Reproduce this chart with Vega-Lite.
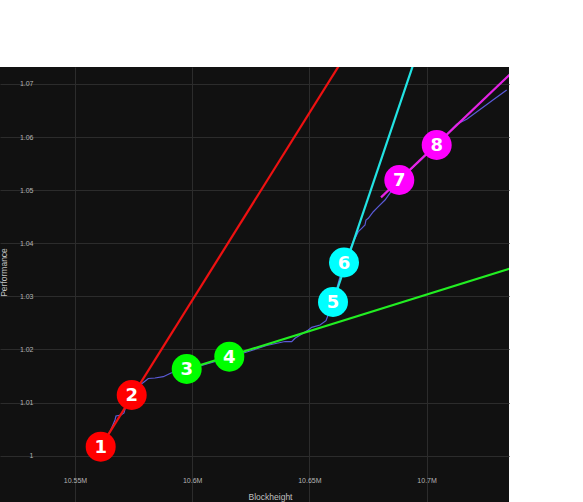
{
  "$schema": "https://vega.github.io/schema/vega-lite/v6.json",
  "autosize": {"type": "none"},
  "width": 509,
  "height": 435,
  "padding": {"left": 0, "top": 67, "right": 74, "bottom": 0},
  "background": "white",
  "config": {
    "view": {"fill": "#111111", "stroke": null},
    "font": "Liberation Sans"
  },
  "datasets": {
    "lines": [
      {"series": "actual", "i": 0, "x": 10560964, "y": 1.001695},
      {"series": "actual", "i": 1, "x": 10564932, "y": 1.00452},
      {"series": "actual", "i": 2, "x": 10567065, "y": 1.006723},
      {"series": "actual", "i": 3, "x": 10567491, "y": 1.007476},
      {"series": "actual", "i": 4, "x": 10569625, "y": 1.007665},
      {"series": "actual", "i": 5, "x": 10570904, "y": 1.008041},
      {"series": "actual", "i": 6, "x": 10571331, "y": 1.008795},
      {"series": "actual", "i": 7, "x": 10574189, "y": 1.011431},
      {"series": "actual", "i": 8, "x": 10577730, "y": 1.013314},
      {"series": "actual", "i": 9, "x": 10579565, "y": 1.013936},
      {"series": "actual", "i": 10, "x": 10581271, "y": 1.014538},
      {"series": "actual", "i": 11, "x": 10584130, "y": 1.014632},
      {"series": "actual", "i": 12, "x": 10587671, "y": 1.014877},
      {"series": "actual", "i": 13, "x": 10590956, "y": 1.015574},
      {"series": "actual", "i": 14, "x": 10597653, "y": 1.016327},
      {"series": "actual", "i": 15, "x": 10603328, "y": 1.016892},
      {"series": "actual", "i": 16, "x": 10615699, "y": 1.018493},
      {"series": "actual", "i": 17, "x": 10624659, "y": 1.019717},
      {"series": "actual", "i": 18, "x": 10631783, "y": 1.020753},
      {"series": "actual", "i": 19, "x": 10639590, "y": 1.021506},
      {"series": "actual", "i": 20, "x": 10642449, "y": 1.021468},
      {"series": "actual", "i": 21, "x": 10643856, "y": 1.022109},
      {"series": "actual", "i": 22, "x": 10649530, "y": 1.023672},
      {"series": "actual", "i": 23, "x": 10650981, "y": 1.02418},
      {"series": "actual", "i": 24, "x": 10654522, "y": 1.024613},
      {"series": "actual", "i": 25, "x": 10657082, "y": 1.025423},
      {"series": "actual", "i": 26, "x": 10660068, "y": 1.028945},
      {"series": "actual", "i": 27, "x": 10664761, "y": 1.036383},
      {"series": "actual", "i": 28, "x": 10668728, "y": 1.0403},
      {"series": "actual", "i": 29, "x": 10670861, "y": 1.042184},
      {"series": "actual", "i": 30, "x": 10672312, "y": 1.042824},
      {"series": "actual", "i": 31, "x": 10673720, "y": 1.043445},
      {"series": "actual", "i": 32, "x": 10674146, "y": 1.044387},
      {"series": "actual", "i": 33, "x": 10675128, "y": 1.044707},
      {"series": "actual", "i": 34, "x": 10677261, "y": 1.04595},
      {"series": "actual", "i": 35, "x": 10679394, "y": 1.046892},
      {"series": "actual", "i": 36, "x": 10682252, "y": 1.048153},
      {"series": "actual", "i": 37, "x": 10688353, "y": 1.05192},
      {"series": "actual", "i": 38, "x": 10704308, "y": 1.058511},
      {"series": "actual", "i": 39, "x": 10712841, "y": 1.062409},
      {"series": "actual", "i": 40, "x": 10717107, "y": 1.063351},
      {"series": "actual", "i": 41, "x": 10722781, "y": 1.065196},
      {"series": "actual", "i": 42, "x": 10729180, "y": 1.067268},
      {"series": "actual", "i": 43, "x": 10734172, "y": 1.068869},
      {"series": "red", "i": 0, "x": 10560964, "y": 1.001695},
      {"series": "red", "i": 1, "x": 10671885, "y": 1.08},
      {"series": "green", "i": 0, "x": 10597653, "y": 1.016271},
      {"series": "green", "i": 1, "x": 10744112, "y": 1.036402},
      {"series": "cyan", "i": 0, "x": 10660068, "y": 1.028945},
      {"series": "cyan", "i": 1, "x": 10699146, "y": 1.08},
      {"series": "magenta", "i": 0, "x": 10680546, "y": 1.048643},
      {"series": "magenta", "i": 1, "x": 10744112, "y": 1.075403}
    ],
    "points": [
      {"label": "1", "series": "red", "x": 10560964, "y": 1.001695},
      {"label": "2", "series": "red", "x": 10574189, "y": 1.011431},
      {"label": "3", "series": "green", "x": 10597653, "y": 1.016327},
      {"label": "4", "series": "green", "x": 10615828, "y": 1.018644},
      {"label": "5", "series": "cyan", "x": 10660068, "y": 1.028945},
      {"label": "6", "series": "cyan", "x": 10664761, "y": 1.036383},
      {"label": "7", "series": "magenta", "x": 10688353, "y": 1.05192},
      {"label": "8", "series": "magenta", "x": 10704308, "y": 1.058511}
    ]
  },
  "encoding": {
    "x": {
      "field": "x", "type": "quantitative",
      "scale": {"domain": [10518004, 10735153], "nice": false, "zero": false},
      "axis": {
        "title": "Blockheight",
        "values": [10550000, 10600000, 10650000, 10700000],
        "format": ".4~s",
        "offset": -32,
        "domain": false, "ticks": false,
        "labelPadding": 6, "labelFontSize": 7, "labelColor": "#b4b4b4",
        "grid": true, "gridColor": "#2c2c2c", "gridWidth": 1,
        "titleFontSize": 8.5, "titleFontWeight": "normal", "titleColor": "#c0c0c0",
        "titleX": 270, "titleY": 22, "titleBaseline": "top"
      }
    },
    "y": {
      "field": "y", "type": "quantitative",
      "scale": {"domain": [0.991281, 1.0732], "nice": false, "zero": false},
      "axis": {
        "title": "Performance",
        "values": [1, 1.01, 1.02, 1.03, 1.04, 1.05, 1.06, 1.07],
        "format": ".2~f",
        "offset": -35,
        "domain": false, "ticks": false,
        "labelPadding": 2, "labelFontSize": 7, "labelColor": "#b4b4b4",
        "grid": true, "gridColor": "#2c2c2c", "gridWidth": 1,
        "titleFontSize": 8.5, "titleFontWeight": "normal", "titleColor": "#c0c0c0",
        "titleX": -27, "titleY": 205
      }
    }
  },
  "resolve": {"scale": {"color": "independent"}},
  "layer": [
    {
      "data": {"name": "lines"},
      "mark": {"type": "line", "clip": true, "strokeWidth": 1.2},
      "transform": [{"filter": "datum.series === 'actual'"}],
      "encoding": {
        "order": {"field": "i", "type": "quantitative"},
        "color": {"field": "series", "type": "nominal", "legend": null,
          "scale": {"domain": ["actual"], "range": ["#5b5bd8"]}}
      }
    },
    {
      "data": {"name": "lines"},
      "mark": {"type": "line", "clip": true, "strokeWidth": 2.2},
      "transform": [{"filter": "datum.series !== 'actual'"}],
      "encoding": {
        "order": {"field": "i", "type": "quantitative"},
        "color": {
          "field": "series", "type": "nominal", "legend": null,
          "scale": {"domain": ["red", "green", "cyan", "magenta"], "range": ["#ee1111", "#22ee22", "#22e4e4", "#e622e6"]}
        }
      }
    },
    {
      "data": {"name": "points"},
      "mark": {"type": "circle", "size": 900, "opacity": 1},
      "encoding": {
        "color": {"field": "series", "type": "nominal", "legend": null,
          "scale": {"domain": ["red", "green", "cyan", "magenta"], "range": ["#ff0000", "#00ff00", "#00ffff", "#ff00ff"]}}
      }
    },
    {
      "data": {"name": "points"},
      "mark": {"type": "text", "font": "DejaVu Sans", "fontWeight": "bold", "fontSize": 18, "color": "white", "baseline": "middle", "align": "center", "dy": 1},
      "encoding": {
        "text": {"field": "label"}
      }
    }
  ]
}
